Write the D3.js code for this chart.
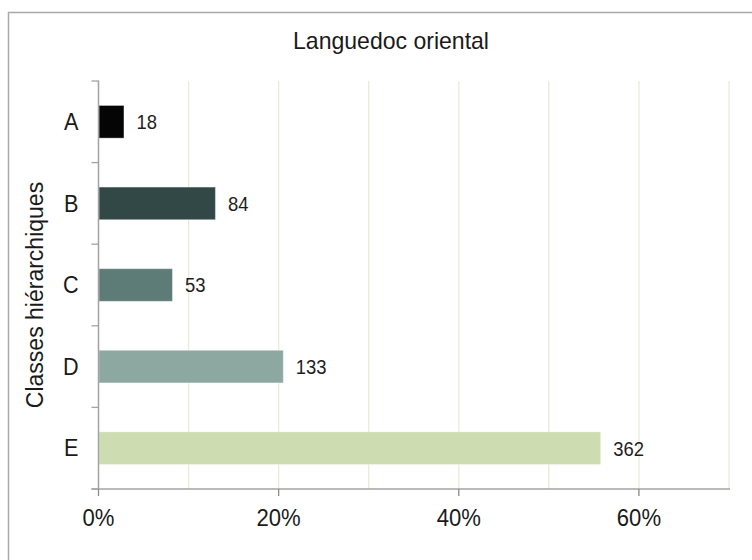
<!DOCTYPE html>
<html>
<head>
<meta charset="utf-8">
<script src="https://cdn.jsdelivr.net/npm/d3@7"></script>
<style>
  html, body { margin: 0; padding: 0; background: #fff; }
  svg { display: block; font-family: "Liberation Sans", Arial, sans-serif; }
</style>
</head>
<body>
<svg id="chart" width="752" height="560"></svg>
<script>
const title = "Languedoc oriental";
const yTitle = "Classes hiérarchiques";
const categories = ["A", "B", "C", "D", "E"];
const counts = [18, 84, 53, 133, 362];
const colors = ["#050505", "#324846", "#5e7c77", "#8da8a1", "#cedcb2"];
const tickValues = [0, 0.2, 0.4, 0.6];
const gridValues = [0.1, 0.2, 0.3, 0.4, 0.5, 0.6, 0.7];

const total = d3.sum(counts);
const data = categories.map((c, i) => ({ cat: c, n: counts[i], p: counts[i] / total, color: colors[i] }));

const svg = d3.select("#chart");
const m = { left: 98.5, top: 81 };
const plotRight = 729, plotBottom = 489;
const sx = 0.94; // slight horizontal condensation of the text glyphs

// outer border
svg.append("rect").attr("x", 8.5).attr("y", 12.5).attr("width", 800).attr("height", 600)
  .attr("fill", "none").attr("stroke", "#a9a9a9").attr("stroke-width", 1.5);

const x = d3.scaleLinear().domain([0, 0.7]).range([m.left, plotRight]);
const y = d3.scaleBand().domain(categories).range([m.top, plotBottom]).paddingInner(0.6).paddingOuter(0.3);
const yBand = d3.scaleBand().domain(categories).range([m.top, plotBottom]);

// gridlines
svg.append("g").selectAll("line").data(gridValues).join("line")
  .attr("x1", d => x(d)).attr("x2", d => x(d))
  .attr("y1", m.top).attr("y2", plotBottom)
  .attr("stroke", "#e9ebd6").attr("stroke-width", 1.3);

// bars
svg.append("g").selectAll("rect").data(data).join("rect")
  .attr("x", x(0) + 0.5)
  .attr("y", d => y(d.cat))
  .attr("width", d => x(d.p) - x(0))
  .attr("height", y.bandwidth())
  .attr("fill", d => d.color)
  .attr("stroke", "rgba(255,255,255,0.35)")
  .attr("stroke-width", 1);

// value labels
svg.append("g").selectAll("text").data(data).join("text")
  .attr("transform", d => `translate(${x(d.p) + 13},${y(d.cat) + y.bandwidth() / 2}) scale(0.9,1)`)
  .attr("dy", "0.36em")
  .attr("font-size", 20.5)
  .attr("fill", "#1e1e1e")
  .text(d => d.n);

// y axis
const yAxisG = svg.append("g").attr("transform", `translate(${m.left},0)`);
yAxisG.append("line").attr("x1", 0).attr("x2", 0).attr("y1", m.top - 0.5).attr("y2", plotBottom)
  .attr("stroke", "#a3a3a3").attr("stroke-width", 1.5);
const bounds = categories.map(c => yBand(c)).concat([plotBottom]);
yAxisG.selectAll("line.tk").data(bounds).join("line").attr("class", "tk")
  .attr("x1", -7).attr("x2", 0).attr("y1", d => d).attr("y2", d => d)
  .attr("stroke", "#a3a3a3").attr("stroke-width", 1.3);
yAxisG.selectAll("text").data(categories).join("text")
  .attr("transform", d => `translate(-20,${yBand(d) + yBand.bandwidth() / 2}) scale(${sx},1)`)
  .attr("dy", "0.36em").attr("text-anchor", "end")
  .attr("font-size", 23).attr("fill", "#1a1a1a")
  .text(d => d);

// x axis
const xAxisG = svg.append("g").attr("transform", `translate(0,${plotBottom})`);
xAxisG.append("line").attr("x1", m.left - 7).attr("x2", plotRight + 1).attr("y1", 0).attr("y2", 0)
  .attr("stroke", "#a3a3a3").attr("stroke-width", 1.5);
xAxisG.selectAll("line.tk").data(tickValues).join("line").attr("class", "tk")
  .attr("x1", d => x(d)).attr("x2", d => x(d)).attr("y1", 0).attr("y2", 7)
  .attr("stroke", "#8a8a8a").attr("stroke-width", 1.3);
xAxisG.selectAll("text").data(tickValues).join("text")
  .attr("transform", d => `translate(${x(d)},36.5) scale(${sx},1)`)
  .attr("text-anchor", "middle").attr("font-size", 23.5).attr("fill", "#1a1a1a")
  .text(d => d3.format(".0%")(d));

// title
svg.append("text").attr("transform", `translate(391,48.5) scale(0.96,1)`).attr("text-anchor", "middle")
  .attr("font-size", 24).attr("fill", "#1a1a1a").text(title);

// y title
svg.append("text").attr("transform", `translate(43,${(m.top + plotBottom) / 2 + 10}) rotate(-90)`)
  .attr("text-anchor", "middle").attr("font-size", 23).attr("fill", "#1a1a1a").text(yTitle);
</script>
</body>
</html>
